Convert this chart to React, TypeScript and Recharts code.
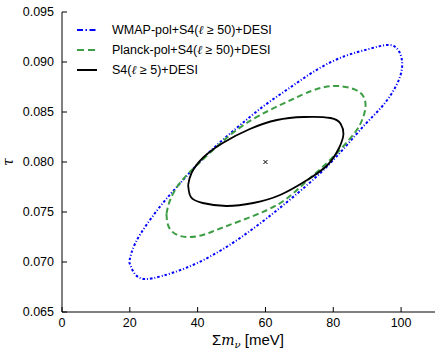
import React from 'react';
import {
  ComposedChart,
  Line,
  Scatter,
  XAxis,
  YAxis,
  Legend,
} from 'recharts';

// contour points: [sum m_nu (meV), tau]
const wmapContour = [
  [19.8, 0.0700], [21.5, 0.0688], [24.5, 0.0683], [29.5, 0.0686], [36.5, 0.0694],
  [44.5, 0.0707], [52.5, 0.0724], [60.5, 0.0744], [68.5, 0.0766], [76.5, 0.0790],
  [83.5, 0.0815], [89.5, 0.0838], [94.5, 0.0856], [98.5, 0.0876], [100.3, 0.0895],
  [99.5, 0.0910], [96.5, 0.0917], [90.5, 0.0913], [83.5, 0.0906], [75.5, 0.0893],
  [67.5, 0.0875], [59.5, 0.0856], [51.5, 0.0834], [43.5, 0.0810], [36.5, 0.0785],
  [30.5, 0.0762], [25.5, 0.0740], [21.5, 0.0718],
];

const planckContour = [
  [30.8, 0.0748], [31.5, 0.0735], [34.0, 0.0727], [37.5, 0.0725], [41.5, 0.0727],
  [45.5, 0.0732], [52.5, 0.0741], [60.5, 0.0752], [66.5, 0.0764], [71.9, 0.0780],
  [77.5, 0.0797], [82.5, 0.0814], [86.5, 0.0830], [88.5, 0.0842], [89.5, 0.0855],
  [88.8, 0.0866], [86.0, 0.0873], [81.5, 0.0876], [77.5, 0.0875], [73.5, 0.0871],
  [67.5, 0.0862], [58.5, 0.0847], [51.5, 0.0832], [45.5, 0.0815], [39.5, 0.0796],
  [35.0, 0.0780], [32.0, 0.0763],
];

const s4Contour = [
  [37.2, 0.0777], [38.0, 0.0765], [41.5, 0.0759], [48.5, 0.0756], [56.4, 0.0759],
  [64.3, 0.0767], [72.3, 0.0782], [78.3, 0.0797], [81.7, 0.0814], [83.0, 0.0828],
  [82.2, 0.0838], [79.2, 0.0844], [71.3, 0.0845], [63.4, 0.0842], [55.4, 0.0833],
  [47.4, 0.0819], [41.5, 0.0804], [38.2, 0.0789],
];

const fiducial = [{ x: 60, y: 0.08 }];

const xTicks = [0, 20, 40, 60, 80, 100];
const yTicks = [0.065, 0.07, 0.075, 0.08, 0.085, 0.09, 0.095];

const legendItems = [
  { pre: 'WMAP-pol+S4(', post: ' ≥ 50)+DESI', color: '#0000ff', dash: '6 2.5 1.5 2.5' },
  { pre: 'Planck-pol+S4(', post: ' ≥ 50)+DESI', color: '#3e9e45', dash: '7 4' },
  { pre: 'S4(', post: ' ≥ 5)+DESI', color: '#000000', dash: undefined },
];

const FONT = '"Liberation Sans", Arial, sans-serif';
const MATH = '"DejaVu Serif", serif';

// close the loop so the curve returns to its start
const closed = (pts: number[][]) =>
  [...pts, pts[0]].map(([x, y]) => ({ x, y }));

const CrossMarker = ({ cx, cy }: any) => (
  <g stroke="#000" strokeWidth={1}>
    <line x1={cx - 2} y1={cy - 2} x2={cx + 2} y2={cy + 2} />
    <line x1={cx - 2} y1={cy + 2} x2={cx + 2} y2={cy - 2} />
  </g>
);

const LegendBox = () => (
  <svg width={280} height={62} style={{ display: 'block' }}>
    {legendItems.map((item, i) => (
      <g key={item.pre}>
        <line
          x1={7} x2={27} y1={10 + i * 20} y2={10 + i * 20}
          stroke={item.color} strokeWidth={2} strokeDasharray={item.dash}
        />
        <text x={42} y={10 + i * 20} dy="0.35em" fontSize={12.5} fontFamily={FONT} fill="#000">
          {item.pre}
          <tspan fontFamily={MATH} fontStyle="italic" fontSize={12}>ℓ</tspan>
          {item.post}
        </text>
      </g>
    ))}
  </svg>
);

const XLabel = () => (
  <text x={248} y={345} textAnchor="middle" fontFamily={FONT} fontSize={15} fill="#000">
    Σ<tspan fontStyle="italic" fontFamily={MATH} fontSize={14}>m</tspan>
    <tspan fontStyle="italic" fontFamily={MATH} fontSize={10} dy={3}>ν</tspan>
    <tspan dy={-3}> [meV]</tspan>
  </text>
);

const YLabel = () => (
  <text
    x={13} y={162} textAnchor="middle" transform="rotate(-90 13 162)"
    fontFamily={MATH} fontStyle="italic" fontSize={14} fill="#000"
  >
    τ
  </text>
);

export default function App() {
  const tickStyle = { fontSize: 12.5, fontFamily: FONT, fill: '#000' };
  return (
    <div style={{ position: 'absolute', left: 0, top: 0, background: '#fff' }}>
      <ComposedChart width={441} height={357} margin={{ top: 12, right: 6, left: 0, bottom: 0 }}>
        <XAxis
          xAxisId="b" type="number" dataKey="x" domain={[0, 110]} ticks={xTicks}
          height={45} tickSize={-5} tickMargin={11} tick={tickStyle}
          stroke="#000" allowDataOverflow label={<XLabel />}
        />
        <XAxis
          xAxisId="t" orientation="top" type="number" domain={[0, 110]} ticks={xTicks}
          height={0} tickSize={-5} tickFormatter={() => ''} stroke="#000" allowDataOverflow
        />
        <YAxis
          yAxisId="l" type="number" dataKey="y" domain={[0.065, 0.095]} ticks={yTicks}
          width={62} tickSize={-5} tickMargin={13} tick={tickStyle}
          tickFormatter={(v: number) => v.toFixed(3)} stroke="#000" allowDataOverflow
          label={<YLabel />}
        />
        <YAxis
          yAxisId="r" orientation="right" type="number" domain={[0.065, 0.095]} ticks={yTicks}
          width={0} tickSize={-5} tickFormatter={() => ''} stroke="#000" allowDataOverflow
        />
        <Legend
          layout="horizontal" verticalAlign="middle" align="center"
          wrapperStyle={{ left: 70, top: 20, width: 'auto', height: 'auto' }}
          content={<LegendBox />}
        />
        <Line
          xAxisId="b" yAxisId="l" data={closed(wmapContour)} dataKey="y" type="natural"
          stroke="#0000ff" strokeWidth={2} strokeDasharray="2.5 2 1 2" dot={false}
          isAnimationActive={false} legendType="none"
        />
        <Line
          xAxisId="b" yAxisId="l" data={closed(planckContour)} dataKey="y" type="natural"
          stroke="#3e9e45" strokeWidth={2} strokeDasharray="6 3.5" dot={false}
          isAnimationActive={false} legendType="none"
        />
        <Line
          xAxisId="b" yAxisId="l" data={closed(s4Contour)} dataKey="y" type="natural"
          stroke="#000" strokeWidth={1.8} dot={false}
          isAnimationActive={false} legendType="none"
        />
        <Scatter
          xAxisId="b" yAxisId="l" data={fiducial} dataKey="y" shape={<CrossMarker />}
          isAnimationActive={false} legendType="none"
        />
      </ComposedChart>
    </div>
  );
}
